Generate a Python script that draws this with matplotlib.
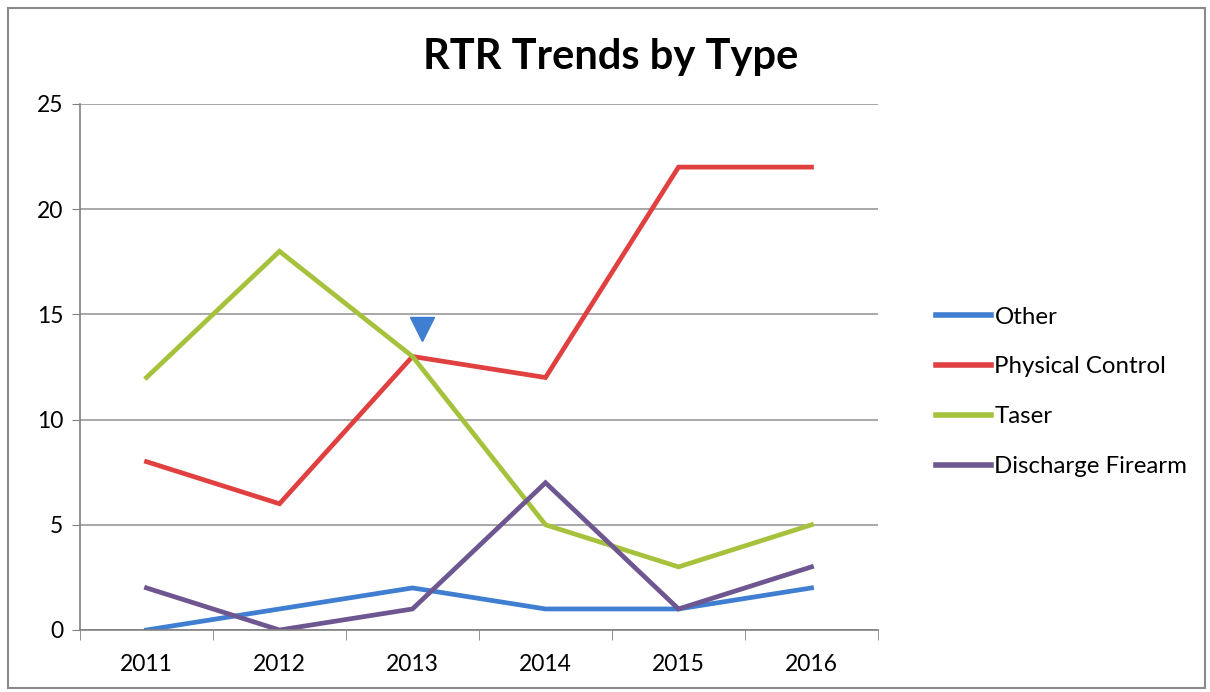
import matplotlib
matplotlib.use("Agg")
import matplotlib.pyplot as plt
from matplotlib.patches import Rectangle

years = ["2011", "2012", "2013", "2014", "2015", "2016"]
other = [0, 1, 2, 1, 1, 2]
physical_control = [8, 6, 13, 12, 22, 22]
taser = [12, 18, 13, 5, 3, 5]
discharge_firearm = [2, 0, 1, 7, 1, 3]

series = [
    ("Other", other, "#3F7ED0"),
    ("Physical Control", physical_control, "#E0403F"),
    ("Taser", taser, "#A6C23C"),
    ("Discharge Firearm", discharge_firearm, "#6E5690"),
]

plt.rcParams["font.family"] = ["Lato", "DejaVu Sans"]

fig = plt.figure(figsize=(12.1, 6.92), dpi=100)
fig.patches.append(Rectangle((0.007, 0.006), 0.989, 0.982, transform=fig.transFigure,
                             fill=False, edgecolor="#8a8a8a", linewidth=1.5))

ax = fig.add_axes([80 / 1210, 1 - 630 / 692, 798 / 1210, 526 / 692])
x = list(range(len(years)))
for name, vals, color in series:
    ax.plot(x, vals, color=color, linewidth=3.4, label=name, solid_joinstyle="miter")

# callout marker above the 2013 crossing
ax.plot([2.07], [14.3], marker="v", color="#3F7ED0", markersize=17, linestyle="none")

ax.set_xlim(-0.5, len(years) - 0.5)
ax.set_ylim(0, 25)
ax.set_yticks(range(0, 26, 5))
ax.set_xticks(x)
ax.set_xticklabels(years)
ax.set_xticks([i - 0.5 for i in range(len(years) + 1)], minor=True)
ax.tick_params(axis="x", which="major", length=0, pad=17, labelsize=16.5)
ax.tick_params(axis="x", which="minor", length=7, color="#808080", direction="out")
ax.tick_params(axis="y", length=6, color="#808080", labelsize=16.5, pad=6)
ax.grid(axis="y", color="#9a9a9a", linewidth=1.2)
ax.set_axisbelow(True)
for side in ("top", "right"):
    ax.spines[side].set_visible(False)
for side in ("left", "bottom"):
    ax.spines[side].set_color("#808080")
    ax.spines[side].set_linewidth(1.2)

fig.text(611 / 1210, 1 - 57 / 692, "RTR Trends by Type", ha="center", va="center",
         fontsize=30, fontweight="bold")

leg = fig.legend(loc="upper left", bbox_to_anchor=(914 / 1210, 1 - 285 / 692),
                 frameon=False, fontsize=17.3, handlelength=2.3, handletextpad=0.15,
                 labelspacing=1.2)
for line in leg.get_lines():
    line.set_linewidth(4)

fig.savefig("out.png", dpi=100)
